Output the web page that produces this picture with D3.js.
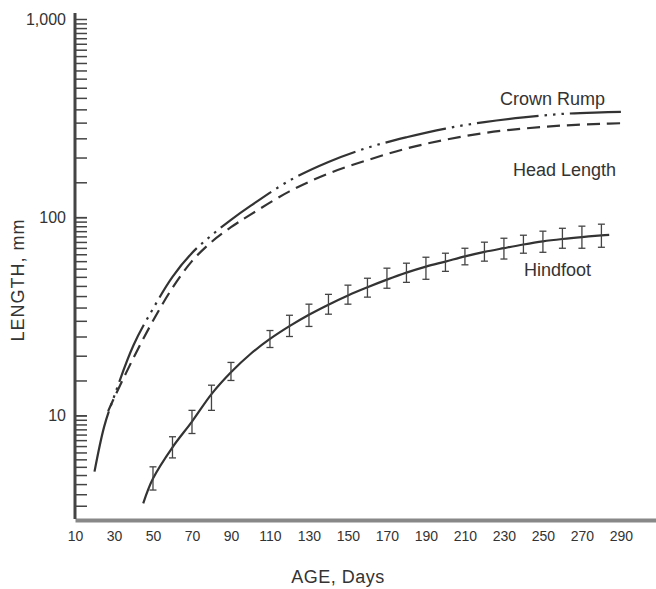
<html>
<head>
    <script src="https://d3js.org/d3.v7.min.js"></script>
    <style>
        body { margin: 0; background: #fff; }
        text { font-family: "Liberation Sans", Arial, sans-serif; fill: #333; }
    </style>
</head>
<body>
<svg id="chart" width="656" height="589"></svg>
<script>
// values (days, mm)
const crownDays = [20, 25, 30, 40, 50, 60, 70, 80, 90, 100, 120, 140, 160, 180, 200, 220, 240, 260, 280, 290];
const crownRump = [5.2, 8.8, 12.4, 22.6, 34.5, 50, 66, 81, 97, 114, 153, 190, 224, 253, 280, 302, 319, 332, 338, 340];

const headDays = [27, 30, 40, 50, 60, 70, 80, 90, 100, 120, 140, 160, 180, 200, 220, 240, 260, 280, 291];
const headLength = [10.5, 12.2, 19.5, 30, 44, 60, 75, 89, 103, 135, 166, 194, 222, 246, 266, 280, 290, 296, 298];

const hindDays = [45, 50, 60, 70, 80, 90, 100, 110, 120, 130, 140, 150, 160, 170, 180, 190, 200, 210, 220, 230, 240, 250, 260, 270, 280, 284];
const hindfoot = [3.6, 4.8, 6.9, 9.3, 12.8, 16.5, 20.4, 24.3, 28.2, 32.2, 36.2, 40.3, 44.3, 48.4, 52.5, 56.3, 59.7, 63.4, 66.8, 69.8, 72.8, 75.5, 77.6, 79.4, 81.0, 81.5];

const barDays = [50, 60, 70, 80, 90, 110, 120, 130, 140, 150, 160, 170, 180, 190, 200, 210, 220, 230, 240, 250, 260, 270, 280];
const barLow = [4.2, 6.1, 8.1, 10.6, 15.0, 22.0, 25.0, 28.1, 32.4, 36.4, 39.5, 43.8, 46.9, 48.6, 53.3, 57.5, 60, 61.5, 65.8, 66.5, 69.7, 69.7, 70.5];
const barHigh = [5.5, 7.8, 10.6, 14.2, 18.5, 26.8, 32.0, 36.4, 40.8, 45.4, 49.2, 55.3, 58.6, 62.8, 65.8, 69.7, 74.8, 78.3, 81.1, 85.0, 87.9, 90.1, 92.2];

const xTicks = [10, 30, 50, 70, 90, 110, 130, 150, 170, 190, 210, 230, 250, 270, 290];
const yLabels = [10, 100, 1000];

const svg = d3.select("svg#chart");

const x = d3.scaleLinear().domain([10, 308]).range([75, 656]);
const y = d3.scaleLog().domain([3, 1000]).range([519, 19]);

// minor ticks of the log ruler: every half unit of each decade
let minor = [];
[1, 10, 100].forEach(dec => {
    for (let m = 1; m <= 10; m += 0.5) {
        const v = m * dec;
        if (v > 3.2 && v <= 1000) minor.push(v);
    }
});

// x axis (thick grey rule, labels only)
const xAxis = svg.append("g")
    .attr("transform", "translate(0,520)")
    .call(d3.axisBottom(x).tickValues(xTicks).tickSize(0).tickPadding(11).tickFormat(d3.format("d")));
xAxis.select(".domain").attr("stroke", "#888").attr("stroke-width", 4);
xAxis.selectAll("text").style("font-size", "14px").attr("fill", "#333");

// y axis ticks on the right side of the rule
const yRule = svg.append("g")
    .attr("transform", "translate(75,0)")
    .call(d3.axisRight(y).tickValues(minor).tickSize(12).tickFormat(""));
yRule.select(".domain").attr("d", "M0,13V519").attr("stroke", "#444").attr("stroke-width", 3);
yRule.selectAll(".tick line").attr("stroke", "#444").attr("stroke-width", 1.5);

const yText = svg.append("g")
    .attr("transform", "translate(75,0)")
    .call(d3.axisLeft(y).tickValues(yLabels).tickSize(0).tickPadding(9).tickFormat(d3.format(",")));
yText.select(".domain").remove();
yText.selectAll("text").style("font-size", "16px").attr("fill", "#333");

// axis titles
svg.append("text")
    .attr("x", 338).attr("y", 583)
    .attr("text-anchor", "middle")
    .style("font-size", "18px")
    .style("letter-spacing", "0.5px")
    .text("AGE, Days");

svg.append("text")
    .attr("transform", "translate(24,280) rotate(-90)")
    .attr("text-anchor", "middle")
    .style("font-size", "18px")
    .style("letter-spacing", "1px")
    .text("LENGTH, mm");

// curves
const line = d3.line()
    .x(d => x(d[0]))
    .y(d => y(d[1]))
    .curve(d3.curveCatmullRom.alpha(0.5));

const plot = svg.append("g").attr("fill", "none").attr("stroke", "#333");

plot.append("path")
    .attr("d", line(d3.zip(crownDays, crownRump)))
    .attr("stroke-width", 2.2)
    .attr("stroke-dasharray", "62,6,2.5,6,2.5,6,2.5,6");

plot.append("path")
    .attr("d", line(d3.zip(headDays, headLength)))
    .attr("stroke-width", 2.2)
    .attr("stroke-dasharray", "13,7");

plot.append("path")
    .attr("d", line(d3.zip(hindDays, hindfoot)))
    .attr("stroke-width", 2.2);

// error bars on hindfoot
const bars = plot.selectAll("g.bar")
    .data(d3.zip(barDays, barLow, barHigh))
    .join("g")
    .attr("class", "bar")
    .attr("stroke", "#444")
    .attr("stroke-width", 1.3);

bars.append("line")
    .attr("x1", d => x(d[0])).attr("x2", d => x(d[0]))
    .attr("y1", d => y(d[1])).attr("y2", d => y(d[2]));
bars.append("line")
    .attr("x1", d => x(d[0]) - 3.5).attr("x2", d => x(d[0]) + 3.5)
    .attr("y1", d => y(d[1])).attr("y2", d => y(d[1]));
bars.append("line")
    .attr("x1", d => x(d[0]) - 3.5).attr("x2", d => x(d[0]) + 3.5)
    .attr("y1", d => y(d[2])).attr("y2", d => y(d[2]));

// series labels
svg.append("text").attr("x", 500).attr("y", 105).style("font-size", "18px").text("Crown Rump");
svg.append("text").attr("x", 513).attr("y", 176).style("font-size", "18px").text("Head Length");
svg.append("text").attr("x", 524).attr("y", 276).style("font-size", "18px").text("Hindfoot");
</script>
</body>
</html>
